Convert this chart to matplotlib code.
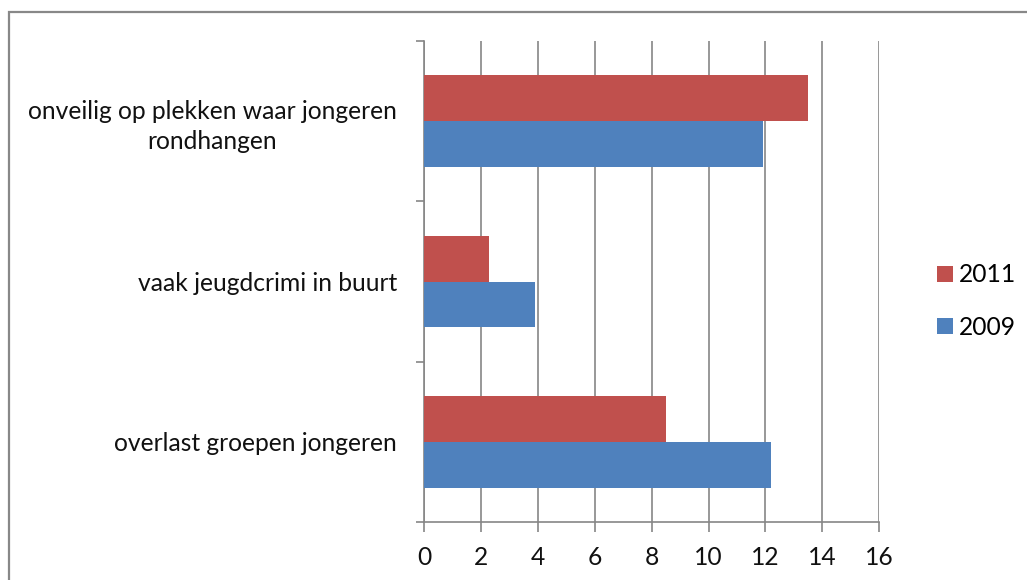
import matplotlib
matplotlib.use("Agg")
import matplotlib.pyplot as plt
from matplotlib.patches import Rectangle, Patch
import numpy as np

categories = ["overlast groepen jongeren",
              "vaak jeugdcrimi in buurt",
              "onveilig op plekken waar jongeren\nrondhangen"]
values_2011 = [8.5, 2.3, 13.5]
values_2009 = [12.2, 3.9, 11.9]
series_labels = ["2011", "2009"]
xticks = [0, 2, 4, 6, 8, 10, 12, 14, 16]

RED = "#C0504D"
BLUE = "#4F81BD"
GRID = "#868686"
FONT = "Lato"
FS = 17.7

plt.rcParams['font.family'] = [FONT, 'DejaVu Sans']

fig = plt.figure(figsize=(10.27, 5.8), dpi=100)
fig.patches.append(Rectangle((9/1027, -0.1), 1.2, 1 - 12/580 + 0.1,
                             transform=fig.transFigure, fill=False,
                             edgecolor="#888888", linewidth=1.6, zorder=0))

ax = fig.add_axes([424/1027, 58/580, (879.3-424)/1027, (522-41)/580])
centers = np.arange(len(categories)) + 0.5
h = 0.285
ax.barh(centers + h/2, values_2011, height=h, color=RED, label=series_labels[0], zorder=3)
ax.barh(centers - h/2, values_2009, height=h, color=BLUE, label=series_labels[1], zorder=3)

ax.set_xlim(0, 16)
ax.set_ylim(0, len(categories))
ax.set_xticks(xticks)
ax.set_xticklabels([str(t) for t in xticks], fontsize=FS, color="#111111")
ax.grid(axis='x', color=GRID, linewidth=1.2, zorder=0)
ax.set_axisbelow(True)

ax.set_yticks(np.arange(len(categories) + 1))
ax.set_yticklabels([])
ax.set_yticks(centers, minor=True)
ax.set_yticklabels(categories, minor=True, fontsize=FS, color="#111111",
                   multialignment='center', linespacing=1.35)
ax.tick_params(axis='y', which='major', length=6, color=GRID, width=1.2)
ax.tick_params(axis='y', which='minor', length=0, pad=19.5)
ax.tick_params(axis='x', length=7, color=GRID, width=1.2, pad=10)

for s in ['top', 'right']:
    ax.spines[s].set_visible(False)
for s in ['left', 'bottom']:
    ax.spines[s].set_color(GRID)
    ax.spines[s].set_linewidth(1.2)

handles = [Patch(facecolor=RED, label=series_labels[0]),
           Patch(facecolor=BLUE, label=series_labels[1])]
fig.legend(handles=handles, loc='center left', bbox_to_anchor=(925/1027, 1 - 301/580),
           frameon=False, fontsize=FS, handlelength=0.62, handleheight=0.62,
           handletextpad=0.24, labelspacing=1.2, borderpad=0)

fig.savefig("out.png", dpi=100, facecolor="white")
